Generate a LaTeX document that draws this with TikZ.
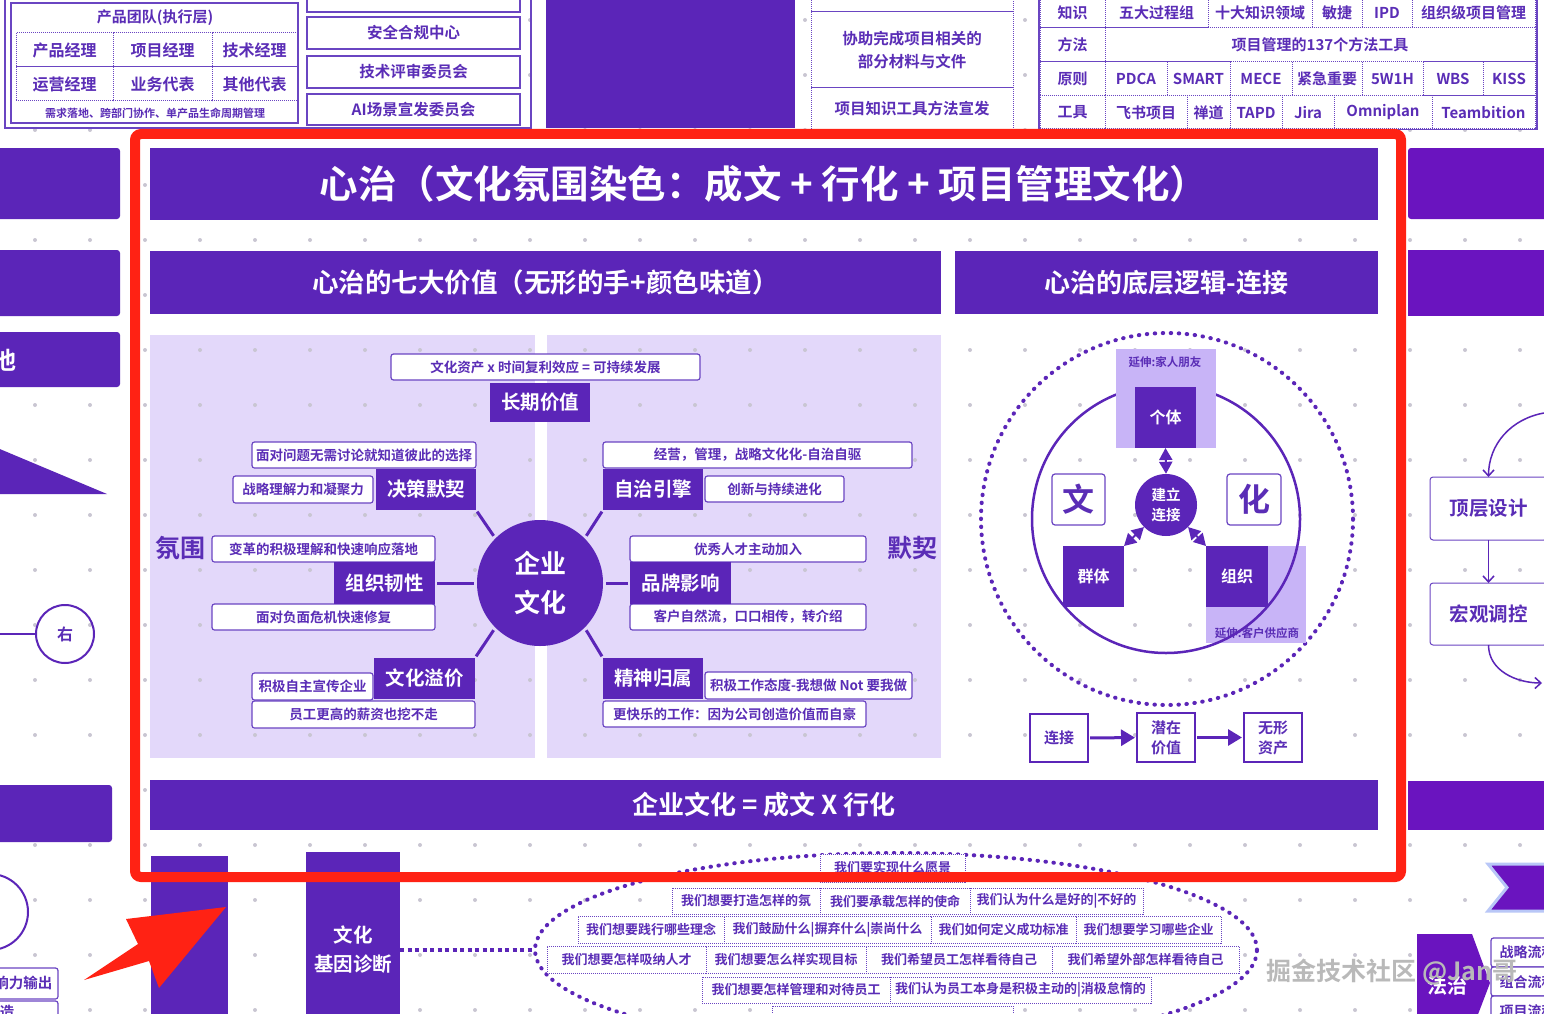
\documentclass[tikz,border=0pt]{standalone}
\usepackage{fontspec}
\setmainfont{Noto Sans CJK SC Bold}
\usepackage{tikz}
\usetikzlibrary{arrows.meta,shapes.geometric}
\definecolor{cultpurple}{HTML}{5B25B8}
\definecolor{cultviolet}{HTML}{6A14BF}
\definecolor{cultink}{HTML}{5A2DB6}
\definecolor{cultline}{HTML}{6A45C2}
\definecolor{cultpanel}{HTML}{E3D8FA}
\definecolor{cultext}{HTML}{C8B4F7}
\definecolor{cultred}{HTML}{FF2214}
\definecolor{cultdot}{HTML}{C9C6D2}
\definecolor{cultedge}{HTML}{B9C7F7}

\newcommand{\fz}[2]{\fontsize{#1}{#2}\selectfont}
\newcommand{\blk}[7]{\node[rectangle,inner sep=0pt,outer sep=0pt,align=center,minimum width={((#5)-(#3))*1pt},minimum height={((#6)-(#4))*1pt},#1] (#2) at ({((#3)+(#5))/2},{((#4)+(#6))/2}) {#7};}

\tikzset{
  band/.style={fill=cultpurple,text=white},
  sideband/.style={fill=cultviolet,text=white},
  valbox/.style={fill=cultpurple,text=white,font=\fz{19.5}{20}},
  notebox/.style={draw=cultline,fill=white,line width=1.2pt,rounded corners=2.5pt,text=cultink,font=\fz{13.5}{14}},
  cell/.style={draw=cultline,densely dotted,line width=1pt,fill=white,text=cultink,font=\fz{15}{15}},
  sidebox/.style={draw=cultline,line width=1.5pt,fill=white,text=cultink,font=\fz{15.5}{16}},
  darkbox/.style={fill=cultpurple,text=white,font=\fz{16}{16}},
  extbox/.style={fill=cultext},
  charbox/.style={draw=cultline,line width=1.2pt,rounded corners=3pt,fill=white,text=cultink,font=\fz{32}{32}},
  flowbox/.style={draw=cultpurple,line width=2.5pt,fill=white,text=cultink,font=\fz{15}{20}},
  vcell/.style={draw=cultline,densely dotted,line width=1pt,fill=white,text=cultink,font=\fz{13}{13}},
  dotring/.style={draw=cultpurple,line width=4pt,dash pattern=on 0.5pt off 7.5pt,line cap=round},
  link/.style={cultpurple,line width=3pt,shorten <=2pt,shorten >=3pt},
  biarrow/.style={cultpurple,line width=2pt,{Triangle[width=13pt,length=12pt]}-{Triangle[width=13pt,length=12pt]}},
  flowarrow/.style={cultpurple,line width=3pt,-{Triangle[width=16pt,length=14pt]},shorten <=2pt,shorten >=2pt},
  thinarrow/.style={cultpurple,line width=1.5pt,-{Straight Barb[length=6pt,width=11pt]}}
}

\begin{document}
\begin{tikzpicture}[x=1pt,y=-1pt]
  \useasboundingbox (0,0) rectangle (1544,1014);
  \fill[white] (0,0) rectangle (1544,1014);
  \fill[cultpanel] (150,335) rectangle (535,758);
  \fill[cultpanel] (547,335) rectangle (941,758);
  \foreach \i in {0,...,27} {\foreach \j in {0,...,18} {\fill[cultdot] (35+55*\i,20+55*\j) circle[radius=2pt];}}

  % top strip
  \draw[cultline,line width=2.5pt] (5,-10) rectangle (531,128);
  \blk{draw=cultline,line width=1.5pt,fill=white}{team}{11}{3}{298}{123}{}
  \node[text=cultink,font=\fz{15}{15}] (teamttl) at (155,18) {产品团队(执行层)};
  \blk{cell,font=\fz{16}{16}}{pm}{16}{33}{113}{67}{产品经理}
  \blk{cell,font=\fz{16}{16}}{xm}{113}{33}{212}{67}{项目经理}
  \blk{cell,font=\fz{16}{16}}{js}{212}{33}{297}{67}{技术经理}
  \blk{cell,font=\fz{16}{16}}{yy}{16}{67}{113}{101}{运营经理}
  \blk{cell,font=\fz{16}{16}}{yw}{113}{67}{212}{101}{业务代表}
  \blk{cell,font=\fz{16}{16}}{qt}{212}{67}{297}{101}{其他代表}
  \node[text=cultink,font=\fz{11}{11}] (teamnote) at (155,113) {需求落地、跨部门协作、单产品生命周期管理};
  \blk{sidebox}{zb}{307}{-15}{520}{12}{}
  \blk{sidebox}{aq}{307}{17}{520}{49}{安全合规中心}
  \blk{sidebox}{jp}{307}{56}{520}{88}{技术评审委员会}
  \blk{sidebox}{ai}{307}{94}{520}{125}{AI场景宣发委员会}
  \fill[cultpurple] (546,-5) rectangle (795,128);
  \blk{cell}{xz0}{811}{-15}{1013}{12}{}
  \blk{cell,font=\fz{15.5}{23}}{xz1}{811}{12}{1013}{88}{协助完成项目相关的\\部分材料与文件}
  \blk{cell,font=\fz{15.5}{16}}{xz2}{811}{88}{1013}{130}{项目知识工具方法宣发}
  \draw[cultline,line width=1.5pt] (1039,-5) rectangle (1537,129);
  \blk{cell}{zs}{1040}{-2}{1105}{28}{知识}
  \foreach \a/\b/\t [count=\k] in {1105/1208/五大过程组,1208/1312/十大知识领域,1312/1362/敏捷,1362/1412/IPD,1412/1535/组织级项目管理}
    {\blk{cell}{zs\k}{\a}{-2}{\b}{28}{\t}}
  \blk{cell}{ff}{1040}{28}{1105}{62}{方法}
  \blk{cell}{ff1}{1105}{28}{1535}{62}{项目管理的137个方法工具}
  \blk{cell}{yz}{1040}{62}{1105}{96}{原则}
  \foreach \a/\b/\t [count=\k] in {1105/1167/PDCA,1167/1230/SMART,1230/1292/MECE,1292/1362/紧急重要,1362/1423/5W1H,1423/1483/WBS,1483/1535/KISS}
    {\blk{cell}{yz\k}{\a}{62}{\b}{96}{\t}}
  \blk{cell}{gj}{1040}{96}{1105}{129}{工具}
  \foreach \a/\b/\t [count=\k] in {1105/1187/飞书项目,1187/1230/禅道,1230/1282/TAPD,1282/1334/Jira,1334/1432/Omniplan,1432/1535/Teambition}
    {\blk{cell}{gj\k}{\a}{96}{\b}{129}{\t}}

  % left strip
  \blk{band,rounded corners=3pt}{lb1}{-10}{148}{120}{219}{}
  \blk{band,rounded corners=3pt}{lb2}{-10}{250}{120}{316}{}
  \blk{band,rounded corners=3pt}{lb3}{-10}{332}{120}{387}{}
  \node[text=white,font=\fz{24}{24}] (lb3t) at (5,360) {池};
  \fill[cultpurple] (-5,447) -- (107,494) -- (-5,494) -- cycle;
  \node[circle,draw=cultpurple,line width=2pt,minimum size=58pt,text=cultink,font=\fz{16}{16}] (you) at (65,634) {右};
  \coordinate (youin) at (-5,634);
  \draw[cultpurple,line width=1.5pt] (youin) -- (you);
  \blk{band,rounded corners=3pt}{lb4}{-10}{785}{112}{842}{}
  \node[circle,draw=cultpurple,line width=2pt,minimum size=76pt] (lcirc) at (-10,912) {};
  \blk{notebox}{xlb}{-20}{968}{58}{999}{}
  \node[anchor=east,text=cultink,font=\fz{14.5}{15}] (xlt) at (56,983) {响力输出};
  \blk{notebox}{zab}{-20}{1001}{58}{1030}{}
  \node[text=cultink,font=\fz{14.5}{15}] (zat) at (7,1012) {造};

  % right strip
  \blk{sideband,rounded corners=3pt}{rb1}{1408}{148}{1560}{219}{}
  \blk{sideband}{rb2}{1408}{250}{1560}{316}{}
  \blk{sideband}{rb3}{1408}{781}{1560}{830}{}
  \blk{sidebox,line width=1pt,rounded corners=3pt,font=\fz{19.5}{20}}{dcsj}{1430}{477}{1547}{540}{顶层设计}
  \blk{sidebox,line width=1pt,rounded corners=3pt,font=\fz{19.5}{20}}{hgtk}{1430}{583}{1547}{645}{宏观调控}
  \coordinate (rin) at (1544,413);
  \coordinate (rout) at (1542,683);
  \draw[thinarrow] (rin) to[out=190,in=90] (dcsj.north);
  \draw[thinarrow] (dcsj.south) -- (hgtk.north);
  \draw[thinarrow] (hgtk.south) to[out=-90,in=180] (rout);
  \draw[fill=cultviolet,draw=cultedge,line width=3pt] (1488,864) -- (1560,864) -- (1560,911) -- (1488,911) -- (1507,887.5) -- cycle;
  \fill[cultviolet] (1417,934) -- (1472,934) -- (1490,983) -- (1472,1030) -- (1417,1030) -- cycle;
  \node[text=white,font=\fz{20}{20}] (fz) at (1447,986) {法治};
  \blk{notebox}{zl}{1491}{938}{1560}{967}{}
  \blk{notebox}{zh}{1491}{967}{1560}{996}{}
  \blk{notebox}{xmlc}{1491}{996}{1560}{1030}{}
  \node[anchor=west,text=cultink,font=\fz{14}{14}] (zlt) at (1496,952) {战略流程};
  \node[anchor=west,text=cultink,font=\fz{14}{14}] (zht) at (1496,982) {组合流程};
  \node[anchor=west,text=cultink,font=\fz{14}{14}] (xmt) at (1496,1011) {项目流程};

  % main frame
  \blk{band,font=\fz{38.5}{39}}{title}{150}{148}{1378}{220}{心治（文化氛围染色：成文 + 行化 + 项目管理文化）}
  \blk{band,font=\fz{26.5}{27}}{hleft}{150}{251}{941}{314}{心治的七大价值（无形的手+颜色味道）}
  \blk{band,font=\fz{26}{26}}{hright}{955}{251}{1378}{314}{心治的底层逻辑-连接}
  \blk{band,font=\fz{26}{26}}{formula}{150}{780}{1378}{830}{企业文化 = 成文 X 行化}

  \node[circle,fill=cultpurple,minimum size=126pt,text=white,align=center,font=\fz{26}{39}] (core) at (540,583) {企业\\文化};
  \node[text=cultink,font=\fz{25}{25}] (fenwei) at (180,548) {氛围};
  \node[text=cultink,font=\fz{25}{25}] (moqi) at (912,548) {默契};
  \blk{notebox}{cqn}{391}{354}{700}{380}{文化资产 x 时间复利效应 = 可持续发展}
  \blk{valbox}{cqjz}{490}{383}{590}{422}{长期价值}
  \blk{notebox}{jcn1}{252}{442}{476}{468}{面对问题无需讨论就知道彼此的选择}
  \blk{notebox}{jcn2}{233}{476}{373}{503}{战略理解力和凝聚力}
  \blk{valbox}{jcmq}{376}{469}{476}{510}{决策默契}
  \blk{notebox}{zzn1}{212}{536}{435}{562}{变革的积极理解和快速响应落地}
  \blk{notebox}{zzn2}{212}{604}{435}{630}{面对负面危机快速修复}
  \blk{valbox}{zzrx}{334}{562}{435}{604}{组织韧性}
  \blk{notebox}{whn1}{252}{673}{373}{700}{积极自主宣传企业}
  \blk{notebox}{whn2}{252}{701}{475}{728}{员工更高的薪资也挖不走}
  \blk{valbox}{whyj}{374}{658}{475}{699}{文化溢价}
  \blk{notebox}{zyn1}{603}{442}{912}{468}{经营，管理，战略文化化-自治自驱}
  \blk{notebox}{zyn2}{705}{476}{844}{502}{创新与持续进化}
  \blk{valbox}{zzyq}{603}{469}{703}{510}{自治引擎}
  \blk{notebox}{ppn1}{630}{536}{866}{562}{优秀人才主动加入}
  \blk{notebox}{ppn2}{630}{604}{866}{630}{客户自然流，口口相传，转介绍}
  \blk{valbox}{ppyx}{630}{562}{731}{604}{品牌影响}
  \blk{notebox}{jsn1}{705}{672}{912}{699}{积极工作态度-我想做 Not 要我做}
  \blk{notebox}{jsn2}{603}{701}{866}{727}{更快乐的工作：因为公司创造价值而自豪}
  \blk{valbox}{jsgs}{603}{658}{703}{699}{精神归属}
  \draw[link] (jcmq.south east) -- (core.135);
  \draw[link] (zzrx.east) -- (core.west);
  \draw[link] (whyj.north east) -- (core.225);
  \draw[link] (zzyq.south west) -- (core.45);
  \draw[link] (ppyx.west) -- (core.east);
  \draw[link] (jsgs.north west) -- (core.-45);

  \node[circle,dotring,minimum size=372pt] (outer) at (1167,519) {};
  \blk{extbox}{ext2}{1206}{546}{1306}{643}{}
  \node[text=cultink,font=\fz{11.5}{12}] (ext2t) at (1257,633) {延伸:客户供应商};
  \node[circle,draw=cultpurple,line width=2.5pt,minimum size=268pt] (inner) at (1166,519) {};
  \blk{extbox}{ext1}{1116}{349}{1216}{448}{}
  \node[text=cultink,font=\fz{11.5}{12}] (ext1t) at (1165,362) {延伸:家人朋友};
  \blk{darkbox}{gt}{1135}{387}{1196}{448}{个体}
  \node[circle,fill=cultpurple,minimum size=62pt,text=white,align=center,font=\fz{14.5}{20}] (jllj) at (1166,505) {建立\\连接};
  \blk{charbox}{wen}{1052}{474}{1105}{525}{文}
  \blk{charbox}{hua}{1227}{474}{1281}{525}{化}
  \blk{darkbox}{qunti}{1063}{546}{1124}{607}{群体}
  \blk{darkbox}{zuzhi}{1206}{546}{1268}{607}{组织}
  \draw[biarrow] (gt.south) -- (jllj.north);
  \draw[biarrow] (qunti.north east) -- (jllj.225);
  \draw[biarrow] (zuzhi.north west) -- (jllj.-45);
  \blk{flowbox}{lianjie}{1030}{714}{1088}{762}{连接}
  \blk{flowbox}{qzjz}{1137}{713}{1195}{762}{潜在\\价值}
  \blk{flowbox}{wxzc}{1244}{713}{1302}{762}{无形\\资产}
  \draw[flowarrow] (lianjie) -- (qzjz);
  \draw[flowarrow] (qzjz) -- (wxzc);

  % bottom strip
  \blk{band}{bar1}{151}{856}{228}{1050}{}
  \blk{band,font=\fz{19.5}{29}}{jydz}{306}{852}{400}{1048}{文化\\基因诊断}
  \node[ellipse,dotring,minimum width=722pt,minimum height=194pt] (vision) at (896,950) {};
  \draw[cultpurple,line width=3.5pt,dash pattern=on 4pt off 3.5pt] (jydz.east) -- (vision.west);
  \blk{vcell}{v0}{820}{854}{965}{882}{我们要实现什么愿景}
  \foreach \a/\b/\t [count=\k] in {672/820/我们想要打造怎样的氛,820/970/我们要承载怎样的使命,970/1143/我们认为什么是好的|不好的}
    {\blk{vcell}{va\k}{\a}{888}{\b}{914}{\t}}
  \foreach \a/\b/\t [count=\k] in {578/724/我们想要践行哪些理念,724/931/我们鼓励什么|摒弃什么|崇尚什么,931/1076/我们如何定义成功标准,1076/1221/我们想要学习哪些企业}
    {\blk{vcell}{vb\k}{\a}{916}{\b}{943}{\t}}
  \foreach \a/\b/\t [count=\k] in {547/706/我们想要怎样吸纳人才,706/866/我们想要怎么样实现目标,866/1052/我们希望员工怎样看待自己,1052/1239/我们希望外部怎样看待自己}
    {\blk{vcell}{vc\k}{\a}{946}{\b}{973}{\t}}
  \foreach \a/\b/\t [count=\k] in {702/890/我们想要怎样管理和对待员工,890/1151/我们认为员工本身是积极主动的|消极怠惰的}
    {\blk{vcell}{vd\k}{\a}{977}{\b}{1003}{\t}}
  \blk{vcell}{ve}{772}{1006}{1013}{1030}{}

  \fill[cultred] (84,980) -- (138,944) -- (126,919) -- (226,907) -- (159,988) -- (149,961) -- cycle;
  \draw[cultred,line width=10pt,rounded corners=6pt] (135,134) rectangle (1401,877);
  \node[text=gray!55,font=\fz{25}{25}] (wm) at (1392,972) {掘金技术社区 @Jan哥};
\end{tikzpicture}
\end{document}
